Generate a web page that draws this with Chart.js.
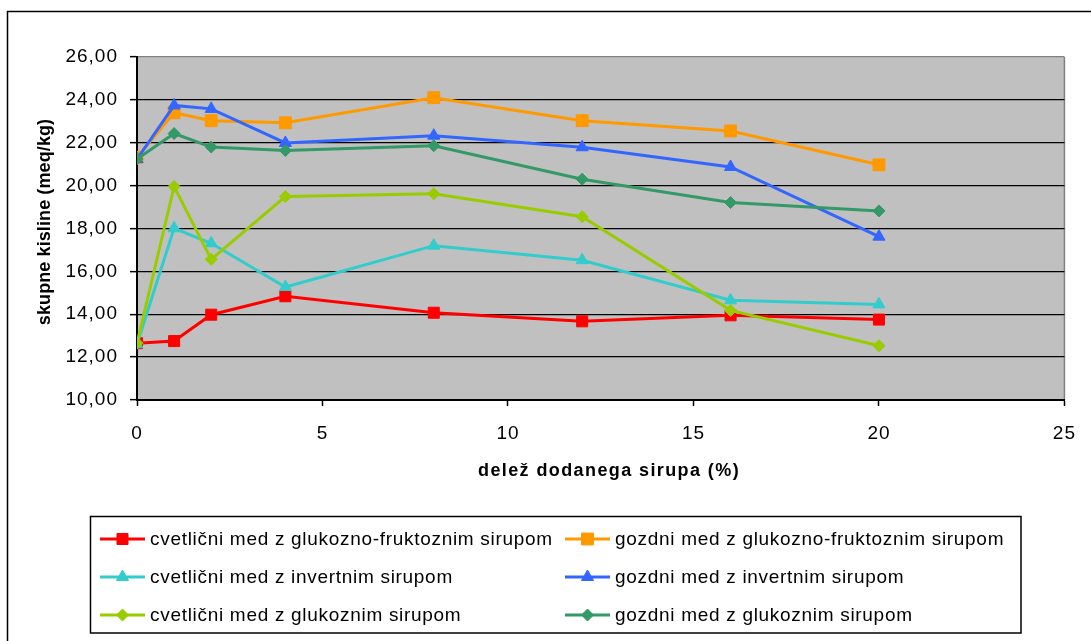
<!DOCTYPE html>
<html>
<head>
<meta charset="utf-8">
<script src="https://cdn.jsdelivr.net/npm/chart.js@4"></script>
<style>
  body { margin: 0; background: #fff; }
  canvas { display: block; }
</style>
</head>
<body>
<canvas id="chart" width="1091" height="641"></canvas>
<script>
// delež dodanega sirupa (%)
const shares = [0, 1, 2, 4, 8, 12, 16, 20];

// skupne kisline (meq/kg)
const cvetlicniGlukFrukt = [12.65, 12.75, 13.98, 14.84, 14.07, 13.67, 13.95, 13.75];
const gozdniGlukFrukt = [21.32, 23.40, 23.03, 22.93, 24.10, 23.03, 22.55, 20.97];
const cvetlicniInvert = [12.60, 18.01, 17.31, 15.27, 17.20, 16.52, 14.65, 14.46];
const gozdniInvert = [21.24, 23.74, 23.58, 21.99, 22.33, 21.79, 20.87, 17.62];
const cvetlicniGluk = [12.65, 19.96, 16.56, 19.49, 19.62, 18.55, 14.18, 12.53];
const gozdniGluk = [21.24, 22.43, 21.80, 21.64, 21.86, 20.30, 19.21, 18.82];

const seriesNames = [
  'cvetlični med z glukozno-fruktoznim sirupom',
  'gozdni med z glukozno-fruktoznim sirupom',
  'cvetlični med z invertnim sirupom',
  'gozdni med z invertnim sirupom',
  'cvetlični med z glukoznim sirupom',
  'gozdni med z glukoznim sirupom'
];
const seriesValues = [cvetlicniGlukFrukt, gozdniGlukFrukt, cvetlicniInvert, gozdniInvert, cvetlicniGluk, gozdniGluk];
const seriesColors = ['#FF0000', '#FF9900', '#33CCCC', '#3366FF', '#99CC00', '#339966'];
const seriesMarkers = ['rect', 'rect', 'triangle', 'triangle', 'rectRot', 'rectRot'];
const markerRadius = [7.8, 8.4, 7, 7, 6, 6];

const yMin = 10, yMax = 26, yStep = 2;
const xMin = 0, xMax = 25, xStep = 5;
const xTitle = 'delež dodanega sirupa (%)';
const yTitle = 'skupne kisline (meq/kg)';

const FONT = '"Liberation Sans", Arial, sans-serif';

const datasets = seriesNames.map((name, i) => ({
  label: name,
  data: shares.map((x, j) => ({ x, y: seriesValues[i][j] })),
  borderColor: seriesColors[i],
  backgroundColor: seriesColors[i],
  pointBackgroundColor: seriesColors[i],
  pointBorderColor: seriesColors[i],
  pointStyle: seriesMarkers[i],
  pointRadius: markerRadius[i],
  pointBorderWidth: 1,
  borderWidth: 3,
  tension: 0,
  order: seriesNames.length - i
}));

const frame = {
  id: 'frame',
  beforeDraw(chart) {
    const { ctx, chartArea: a } = chart;
    ctx.save();
    ctx.fillStyle = '#C0C0C0';
    ctx.fillRect(a.left, a.top, a.right - a.left, a.bottom - a.top);
    ctx.strokeStyle = '#808080';
    ctx.lineWidth = 1.5;
    ctx.beginPath();
    ctx.moveTo(a.right, a.top);
    ctx.lineTo(a.right, a.bottom);
    ctx.stroke();
    ctx.strokeStyle = '#000';
    ctx.lineWidth = 1.5;
    ctx.strokeRect(7.5, 11.5, 1300, 800);
    ctx.restore();
    ctx.letterSpacing = '1px';
  },
  afterDraw(chart) {
    const { ctx } = chart;
    ctx.save();
    ctx.fillStyle = '#000';
    ctx.font = 'bold 18px ' + FONT;
    ctx.textAlign = 'center';
    ctx.textBaseline = 'middle';
    ctx.letterSpacing = '1.4px';
    ctx.fillText(xTitle, 609, 471);
    ctx.save();
    ctx.translate(45, 222);
    ctx.rotate(-Math.PI / 2);
    ctx.letterSpacing = '0.1px';
    ctx.fillText(yTitle, 0, 0);
    ctx.restore();

    // legend
    ctx.strokeStyle = '#000';
    ctx.lineWidth = 1.5;
    ctx.strokeRect(90.5, 516.5, 930.5, 116.5);
    ctx.font = '19px ' + FONT;
    ctx.textAlign = 'left';
    ctx.letterSpacing = '0.7px';
    const cols = [100, 565];
    const rows = [539, 577, 615];
    seriesNames.forEach((name, i) => {
      const x0 = cols[i % 2];
      const y = rows[Math.floor(i / 2)];
      ctx.strokeStyle = seriesColors[i];
      ctx.fillStyle = seriesColors[i];
      ctx.lineWidth = 3;
      ctx.beginPath();
      ctx.moveTo(x0, y);
      ctx.lineTo(x0 + 45, y);
      ctx.stroke();
      ctx.lineWidth = 1;
      Chart.helpers.drawPoint(ctx, { pointStyle: seriesMarkers[i], radius: markerRadius[i], borderWidth: 1, rotation: 0 }, x0 + 22.5, y);
      ctx.fillStyle = '#000';
      ctx.fillText(name, x0 + 50, y + 1);
    });
    ctx.restore();
  }
};

new Chart(document.getElementById('chart'), {
  type: 'line',
  data: { datasets },
  options: {
    responsive: false,
    animation: false,
    devicePixelRatio: 1,
    layout: { padding: { left: 0, top: 57, right: 25, bottom: 0 } },
    plugins: { legend: { display: false }, tooltip: { enabled: false } },
    scales: {
      x: {
        type: 'linear',
        min: xMin,
        max: xMax,
        afterFit(scale) { scale.height = 241; },
        border: { display: true, color: '#000', width: 2 },
        grid: { drawOnChartArea: false, drawTicks: true, tickLength: 6, tickColor: '#000', tickWidth: 1.5 },
        ticks: {
          stepSize: xStep,
          padding: 16,
          color: '#000',
          font: { family: FONT, size: 19 },
          maxRotation: 0,
          callback: v => String(v)
        }
      },
      y: {
        type: 'linear',
        min: yMin,
        max: yMax,
        afterFit(scale) { scale.width = 137; },
        border: { display: true, color: '#000', width: 2 },
        grid: {
          color: ctx => (ctx.tick && ctx.tick.value === yMax ? '#808080' : '#000'),
          lineWidth: 1.3,
          drawTicks: true,
          tickLength: 7,
          tickColor: '#000',
          tickWidth: 1.5
        },
        ticks: {
          stepSize: yStep,
          padding: 12,
          color: '#000',
          font: { family: FONT, size: 19 },
          callback: v => v.toFixed(2).replace('.', ',')
        }
      }
    }
  },
  plugins: [frame]
});
</script>
</body>
</html>
